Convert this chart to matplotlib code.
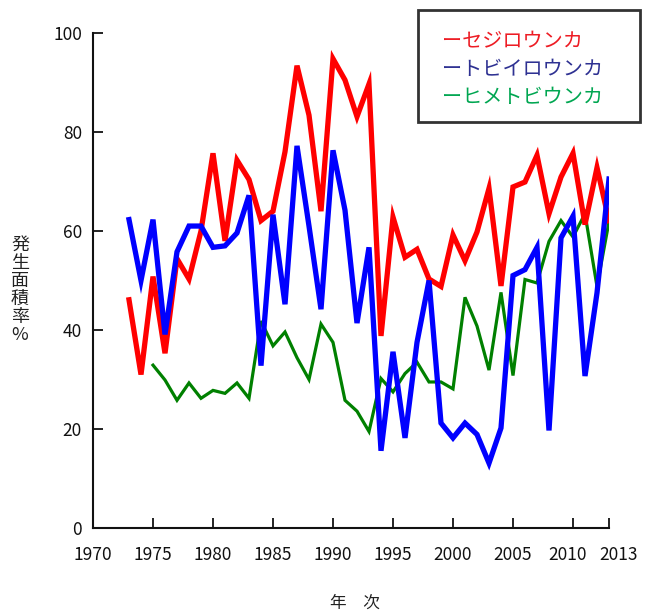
import matplotlib
matplotlib.use("Agg")
import matplotlib.pyplot as plt
import matplotlib.transforms as mtransforms
from matplotlib.patches import Rectangle

plt.rcParams['font.family'] = ['Noto Sans CJK JP', 'DejaVu Sans']

years_red = list(range(1973, 2014))
sejiro = [46.1, 31.0, 50.8, 35.3, 54.4, 50.3, 60.0, 75.7, 58.0, 74.3,
          70.4, 62.1, 64.0, 76.0, 93.4, 83.4, 64.0, 94.8, 90.5, 83.1,
          89.7, 38.8, 62.8, 54.7, 56.3, 50.3, 48.8, 59.2, 54.0, 59.8,
          68.6, 48.9, 68.9, 69.9, 75.3, 63.5, 70.9, 75.7, 61.3, 72.8, 62.1]

years_blue = list(range(1973, 2014))
tobiiro = [62.3, 50.0, 62.3, 39.1, 55.8, 61.0, 61.0, 56.7, 57.0, 59.6,
           67.2, 32.8, 63.3, 45.2, 77.2, 61.0, 44.2, 76.3, 64.2, 41.4,
           56.7, 15.6, 35.6, 18.2, 37.5, 50.0, 21.2, 18.2, 21.2, 18.9,
           13.1, 20.2, 51.0, 52.2, 56.7, 19.7, 58.6, 63.0, 30.7, 47.5, 70.5]

years_green = list(range(1975, 2014))
himetobi = [32.9, 29.9, 25.8, 29.3, 26.2, 27.8, 27.2, 29.3, 26.2, 41.8,
            36.8, 39.6, 34.4, 30.0, 41.2, 37.5, 25.8, 23.6, 19.5, 30.2,
            27.5, 31.2, 33.5, 29.5, 29.5, 28.1, 46.6, 40.8, 31.9, 47.6,
            30.8, 50.2, 49.5, 57.9, 62.1, 58.8, 63.5, 48.8, 61.9]

series_names = ['セジロウンカ', 'トビイロウンカ', 'ヒメトビウンカ']
legend_colors = ['#ed1c24', '#2e3192', '#00a651']

x_ticks = [1970, 1975, 1980, 1985, 1990, 1995, 2000, 2005, 2010, 2013]
y_ticks = [0, 20, 40, 60, 80, 100]

W, H = 648, 614
fig = plt.figure(figsize=(W / 100, H / 100), dpi=100)
ax = fig.add_axes([93 / W, 1 - 528 / H, (609 - 93) / W, (528 - 33) / H])

ax.plot(years_green, himetobi, color='#008000', lw=2.3, solid_joinstyle='miter', zorder=2)
ax.plot(years_red, sejiro, color='#ff0000', lw=3.8, solid_joinstyle='miter', zorder=3)
ax.plot(years_blue, tobiiro, color='#0000ff', lw=3.8, solid_joinstyle='miter', zorder=4)

ax.set_xlim(1970, 2013)
ax.set_ylim(0, 100)
ax.set_xticks(x_ticks)
ax.set_yticks(y_ticks)
ax.set_xticklabels([str(t) for t in x_ticks])
ax.set_yticklabels([str(t) for t in y_ticks])
for s in ['top', 'right']:
    ax.spines[s].set_visible(False)
for s in ['left', 'bottom']:
    ax.spines[s].set_linewidth(1.5)
    ax.spines[s].set_color('#111111')
ax.tick_params(direction='in', length=7, width=1.3, labelsize=12.5, colors='#111111')
ax.tick_params(axis='x', pad=13)
ax.tick_params(axis='y', pad=8)

# nudge the crowded last two year labels apart
labels = ax.get_xticklabels()
for lab, dx in ((labels[-2], -5), (labels[-1], 10)):
    lab.set_transform(lab.get_transform() +
                      mtransforms.ScaledTranslation(dx / 100, 0, fig.dpi_scale_trans))

# axis labels
fig.text(20 / W, 1 - 290 / H, '\n'.join('発生面積率%'), ha='center', va='center',
         fontsize=13, linespacing=1.0, color='#222222')
fig.text(355 / W, 1 - 603 / H, '年　次', ha='center', va='center', fontsize=12,
         color='#222222')

# legend box
rect = Rectangle((418 / W, 1 - 122 / H), (640 - 418) / W, (122 - 10) / H,
                 transform=fig.transFigure, fill=False, edgecolor='#333333', lw=2)
fig.patches.append(rect)
ys = [42, 70, 97]
for name, c, yy in zip(series_names, legend_colors, ys):
    fig.text(442 / W, 1 - yy / H, 'ー' + name, color=c, fontsize=14.5,
             ha='left', va='center')

fig.savefig('out.png', dpi=100)
